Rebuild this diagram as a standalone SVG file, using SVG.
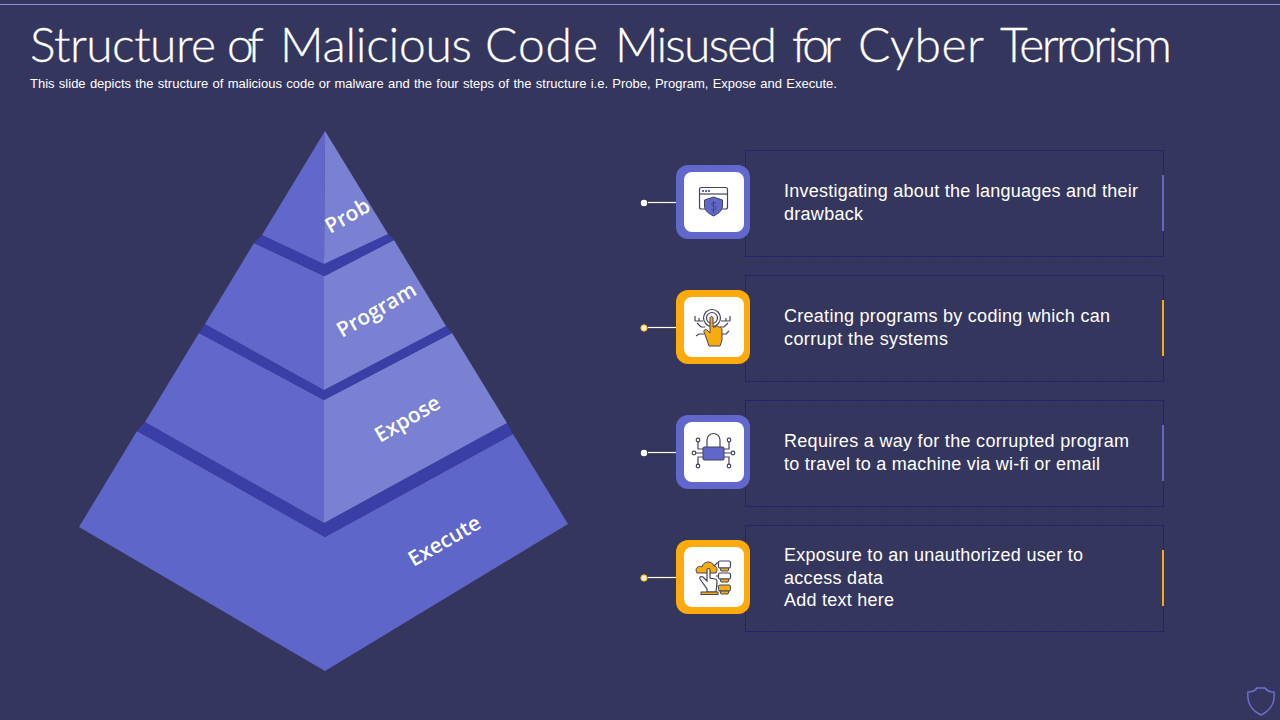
<svg xmlns="http://www.w3.org/2000/svg" width="1280" height="720" viewBox="0 0 1280 720">
<style>
.t{font-family:"Liberation Sans",Arial,sans-serif;font-size:18px;fill:#fff}
.lab{font-family:"Open Sans","Liberation Sans",sans-serif;font-size:21px;font-weight:600;fill:#fff;text-anchor:middle}
.card{fill:none;stroke:#23236e;stroke-width:1}
.ln{stroke:#fff;stroke-width:1.2}
.ic{fill:none;stroke:#44445c;stroke-width:1.2}
.icf{fill:#5f67c9;stroke:#44445c;stroke-width:1}
.ico{fill:#f6ab10;stroke:#44445c;stroke-width:1}
.pu{fill:#6268cb}.or{fill:#fdaa0c}.in{fill:#fff}
.ap{fill:#6268cb}.ao{fill:#f6ab10}
</style>
<defs>
<pattern id="tx" width="6" height="6" patternUnits="userSpaceOnUse"><rect width="6" height="6" fill="#35365e"/><rect x="2" y="2" width="1" height="1" fill="#383962"/><rect x="5" y="5" width="1" height="1" fill="#33345b"/></pattern>
</defs>
<rect width="1280" height="720" fill="url(#tx)"/>
<rect x="0" y="4" width="1280" height="1" fill="#8b8fe0"/>
<text y="62" font-family="Lato,'Liberation Sans',sans-serif" font-weight="300" font-size="48" fill="#fff" stroke="#fff" stroke-width="0.3"><tspan x="30" textLength="186">Structure</tspan> <tspan x="227" textLength="36">of</tspan> <tspan x="280" textLength="192">Malicious</tspan> <tspan x="485" textLength="113">Code</tspan> <tspan x="615" textLength="162">Misused</tspan> <tspan x="792" textLength="48">for</tspan> <tspan x="858" textLength="125">Cyber</tspan> <tspan x="1000" textLength="172">Terrorism</tspan></text>
<text x="30" y="88" font-family="'Liberation Sans',Arial,sans-serif" font-size="13" fill="#fff" word-spacing="0.68">This slide depicts the structure of malicious code or malware and the four steps of the structure i.e. Probe, Program, Expose and Execute.</text>

<g id="pyramid">
<g id="tier-execute">
<polygon points="137,431 325,537 513,434 568,524 325,671 79,527" fill="#5f66c9"/>
<text class="lab" transform="translate(448,547) rotate(-30)">Execute</text>
</g>
<polygon points="145,422 324,523 507,423 513,434 325,537 137,431" fill="#3a3fa8"/>
<g id="tier-expose">
<polygon points="199,333 324,400 324,523 145,422" fill="#6268cb"/>
<polygon points="324,400 452,333 507,423 324,523" fill="#7a80d2"/>
<text class="lab" transform="translate(411,425) rotate(-30)">Expose</text>
</g>
<polygon points="205,324 324,390 446,326 452,333 324,400 199,333" fill="#3a3fa8"/>
<g id="tier-program">
<polygon points="254,243 324,276 324,390 205,324" fill="#6268cb"/>
<polygon points="324,276 394,240 446,326 324,390" fill="#7a80d2"/>
<text class="lab" transform="translate(380,316) rotate(-30)">Program</text>
</g>
<polygon points="262,235 324,264 388,234 394,240 325,276 254,243" fill="#3a3fa8"/>
<g id="tier-prob">
<polygon points="325,131 324,264 262,235" fill="#6268cb"/>
<polygon points="325,131 388,234 324,264" fill="#7a80d2"/>
<text class="lab" transform="translate(351,222) rotate(-30)">Prob</text>
</g>
</g>

<g id="connectors">
<line class="ln" x1="648" y1="202.500" x2="676" y2="202.500"/>
<line class="ln" x1="648" y1="327.500" x2="676" y2="327.500"/>
<line class="ln" x1="648" y1="452.500" x2="676" y2="452.500"/>
<line class="ln" x1="648" y1="577.500" x2="676" y2="577.500"/>
<circle cx="644" cy="203" r="3.200" fill="#fff"/>
<circle cx="644" cy="328" r="3.200" fill="#fff3cf" stroke="#f6ab10"/>
<circle cx="644" cy="453" r="3.200" fill="#fff"/>
<circle cx="644" cy="578" r="3.200" fill="#fff3cf" stroke="#f6ab10"/>
</g>

<g id="node-1">
<rect class="card" x="745.500" y="150.500" width="418" height="106"/>
<rect x="1162" y="175" width="2" height="56" fill="#6268cb"/>
<rect class="pu" x="676" y="165" width="74" height="74" rx="12"/>
<rect class="in" x="684" y="172" width="60" height="60" rx="8"/>
<rect class="ic" x="699.500" y="187.500" width="28" height="21.500" rx="2"/>
<line class="ic" x1="700" y1="194" x2="727" y2="194"/>
<path class="ap" d="M702,190h2v2h-2zM705,190h2v2h-2zM708,190h2v2h-2z"/>
<path class="icf" d="M713.500,197l9,3v6c0,5-5,8-9,10c-4-2-9-5-9-10v-6z"/>
<path d="M716,203.500c-3,-2 -5,0 -4,1.500c1,1.500 4,1 4,3c0,2 -3,2.500 -5,1M713.500,201v12" fill="none" stroke="#44445c" stroke-width="0.8"/>
<text class="t" x="784" y="197" textLength="354" lengthAdjust="spacing">Investigating about the languages and their</text>
<text class="t" x="784" y="220" textLength="79" lengthAdjust="spacing">drawback</text>
</g>

<g id="node-2">
<rect class="card" x="745.500" y="275.500" width="418" height="106"/>
<rect x="1162" y="300" width="2" height="56" fill="#f6ab10"/>
<rect class="or" x="676" y="290" width="74" height="74" rx="12"/>
<rect class="in" x="684" y="297" width="60" height="60" rx="8"/>
<circle class="ic" cx="712" cy="318" r="8.500"/>
<circle class="ic" cx="712" cy="318" r="5.500"/>
<path class="ic" d="M695,321h8M721,321h9M695,321v-5M699,321v-3M726,321v-3M730,321v-5M705,327h-4l-4,-4M720,327h4l4,-4M704,334h-5l-3,2M722,334h4l3,-3"/>
<path class="ico" d="M710,318c0,-2 3,-2 3,0v9l2,0c2,-1 3,-1 4,0c2,0 3,1 3,3v10l-2,6h-11l-2,-6l-3,-8c-1,-2 2,-3 3,-2l3,3z"/>
<text class="t" x="784" y="322" textLength="326" lengthAdjust="spacing">Creating programs by coding which can</text>
<text class="t" x="784" y="345" textLength="164" lengthAdjust="spacing">corrupt the systems</text>
</g>

<g id="node-3">
<rect class="card" x="745.500" y="400.500" width="418" height="106"/>
<rect x="1162" y="425" width="2" height="56" fill="#6268cb"/>
<rect class="pu" x="676" y="415" width="74" height="74" rx="12"/>
<rect class="in" x="684" y="422" width="60" height="60" rx="8"/>
<path class="ic" d="M707,447v-7a6.500,6.500 0 0 1 13,0v7"/>
<rect class="icf" x="703" y="447" width="21" height="13" rx="1"/>
<path class="ic" d="M696,453h7M724,453h7M698,441v8h5M729,441v8h-5M698,465v-8h5M729,465v-8h-5"/>
<circle class="ic" cx="698" cy="440" r="1.800"/><circle class="ic" cx="729" cy="440" r="1.800"/>
<circle class="ic" cx="694" cy="453" r="1.800"/><circle class="ic" cx="733" cy="453" r="1.800"/>
<circle class="ic" cx="698" cy="466" r="1.800"/><circle class="ic" cx="729" cy="466" r="1.800"/>
<text class="t" x="784" y="447" textLength="345" lengthAdjust="spacing">Requires a way for the corrupted program</text>
<text class="t" x="784" y="470" textLength="316" lengthAdjust="spacing">to travel to a machine via wi-fi or email</text>
</g>

<g id="node-4">
<rect class="card" x="745.500" y="525.500" width="418" height="106"/>
<rect x="1162" y="550" width="2" height="56" fill="#f6ab10"/>
<rect class="or" x="676" y="540" width="74" height="74" rx="12"/>
<rect class="in" x="684" y="547" width="60" height="60" rx="8"/>
<path class="ico" d="M697,573c-3,-5 2,-8 5,-6c1,-6 10,-7 12,-1c3,0 4,4 2,7z"/>
<path d="M707,592v-3l-7,-10c-1,-2 1,-3 3,-2l4,4v-11c0,-2 3,-2 3,0v8l5,1c1,0 2,1 2,3l-1,10z" fill="#fff" stroke="#44445c" stroke-width="1.200"/>
<rect class="ico" x="701" y="592" width="17" height="2.500"/>
<path class="ic" d="M714,566l3,-3h2M716,576h2M716,586h2"/>
<rect class="ic" x="718.500" y="561" width="12" height="7" rx="1.500"/><path class="ico" d="M720,568h9l-1,3h-7z"/>
<rect class="ic" x="718.500" y="573" width="12" height="6" rx="1.500"/><path class="ico" d="M720,579h9l-1,3h-7z"/>
<rect class="ico" x="718.500" y="585" width="12" height="6" rx="1.500"/><path class="ico" d="M720,591h9l-1,3h-7z"/>
<text class="t" x="784" y="561" textLength="299" lengthAdjust="spacing">Exposure to an unauthorized user to</text>
<text class="t" x="784" y="584" textLength="99" lengthAdjust="spacing">access data</text>
<text class="t" x="784" y="606" textLength="110" lengthAdjust="spacing">Add text here</text>
</g>

<path d="M1248,692c4,0 7,-1 9,-4h8c2,3 5,4 9,4c1,9 -1,17 -13,23c-12,-6 -14,-14 -13,-23z" fill="none" stroke="#6a70d0" stroke-width="1.500"/>
</svg>
